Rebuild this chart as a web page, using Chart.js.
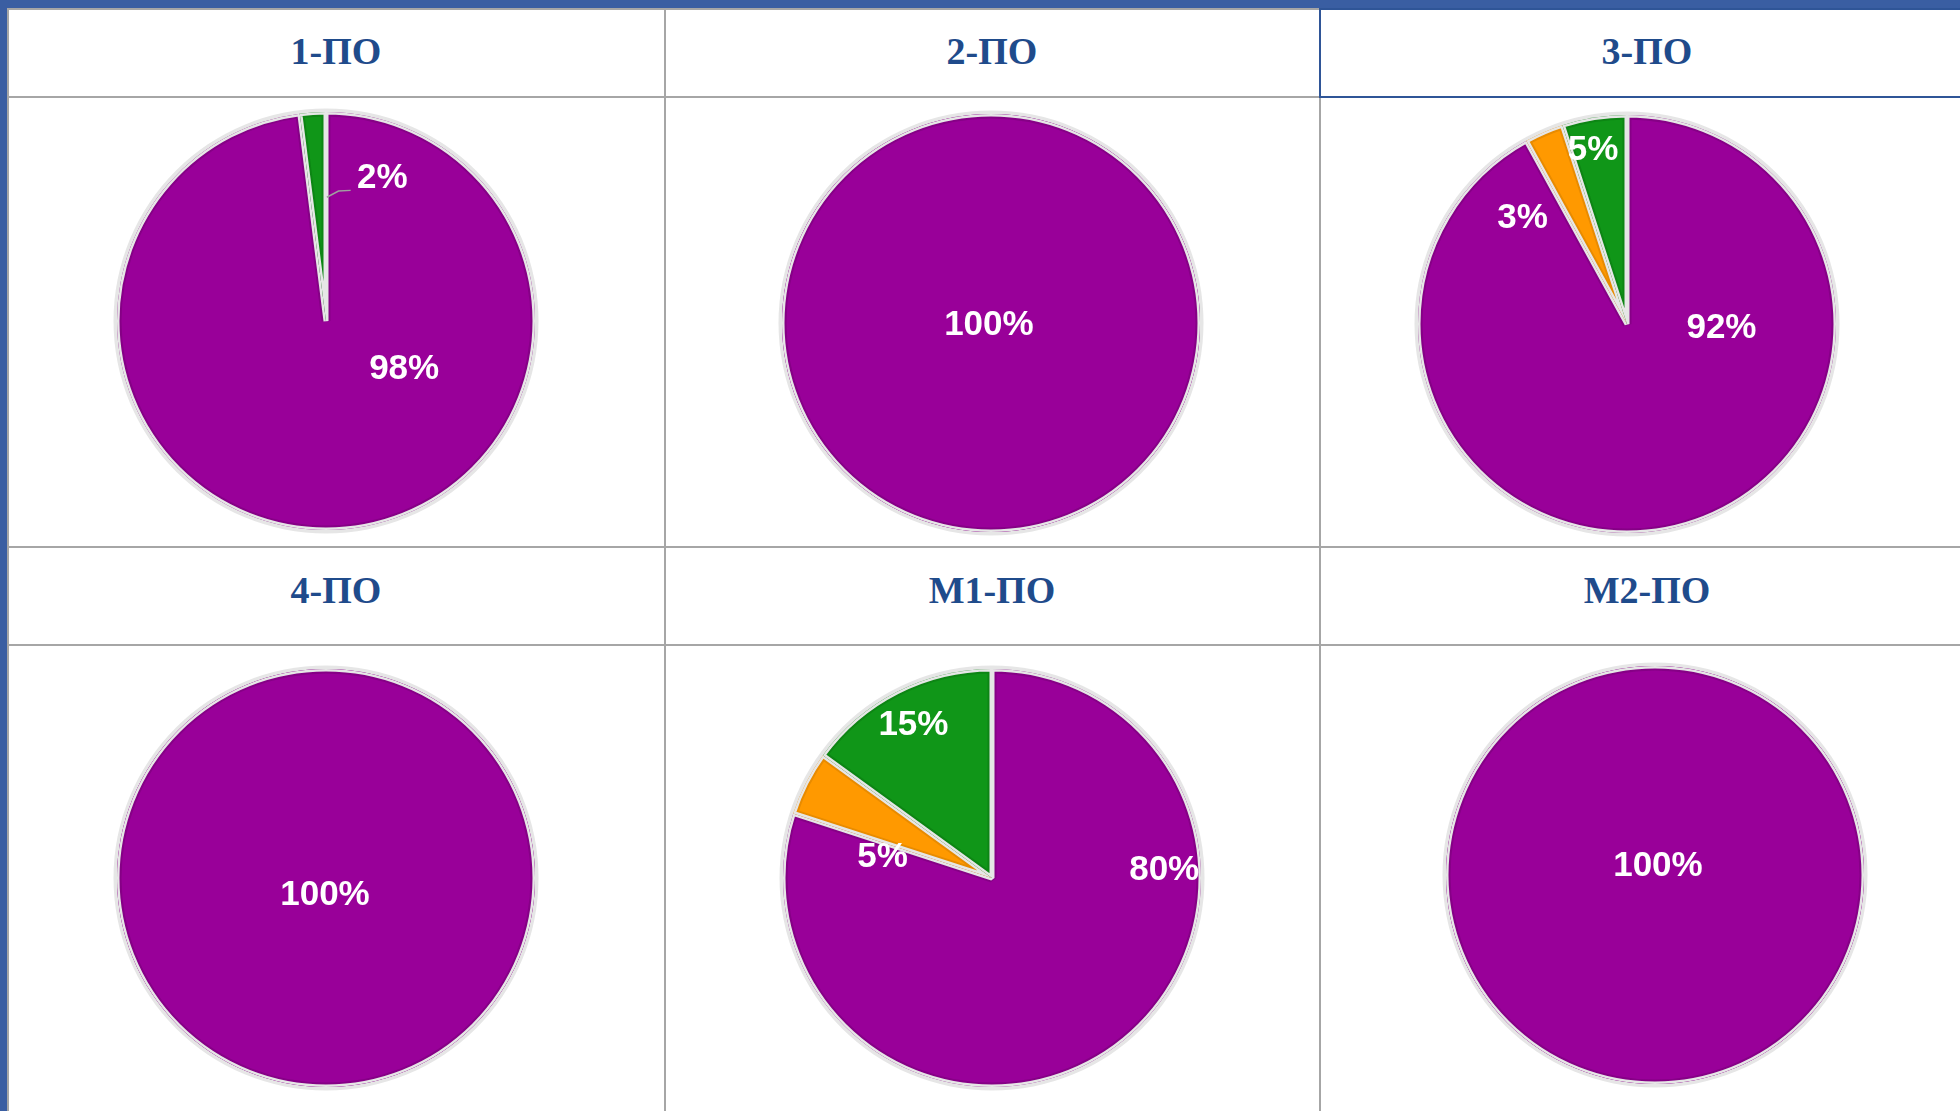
<!DOCTYPE html>
<html>
<head>
<meta charset="utf-8">
<script src="https://cdn.jsdelivr.net/npm/chart.js@4.4.1/dist/chart.umd.min.js"></script>
<style>
html,body{margin:0;padding:0;width:1960px;height:1111px;overflow:hidden;background:#fff;}
body{position:relative;}
.bar{position:absolute;background:#3a5ea2;}
.gl{position:absolute;background:#a6a6a6;}
.hb{position:absolute;background:#2f5597;}
.title{position:absolute;width:400px;height:40px;line-height:40px;text-align:center;
  font-family:"Liberation Serif","Times New Roman",serif;font-weight:bold;font-size:38px;color:#1f4b8b;white-space:nowrap;}
canvas{position:absolute;}
</style>
</head>
<body>
<!-- grid -->
<div class="gl" style="left:0;top:8px;width:1960px;height:2px"></div>
<div class="gl" style="left:0;top:96px;width:1960px;height:2px"></div>
<div class="gl" style="left:0;top:546px;width:1960px;height:2px"></div>
<div class="gl" style="left:0;top:644px;width:1960px;height:2px"></div>
<div class="gl" style="left:7px;top:0;width:2px;height:1111px"></div>
<div class="gl" style="left:664px;top:0;width:2px;height:1111px"></div>
<div class="gl" style="left:1319px;top:0;width:2px;height:1111px"></div>
<!-- highlighted cell -->
<div class="hb" style="left:1319px;top:8px;width:641px;height:2px"></div>
<div class="hb" style="left:1319px;top:96px;width:641px;height:2px"></div>
<div class="hb" style="left:1319px;top:8px;width:2px;height:90px"></div>
<!-- window frame -->
<div class="bar" style="left:0;top:0;width:1960px;height:8px"></div>
<div class="bar" style="left:0;top:0;width:7px;height:1111px"></div>

<script>
// ---------- data ----------
const panelTitles = ['1-ПО', '2-ПО', '3-ПО', '4-ПО', 'М1-ПО', 'М2-ПО'];
const sliceCategories = ['Категория 1', 'Категория 2', 'Категория 3'];
const values1PO  = [98, 0, 2];
const values2PO  = [100, 0, 0];
const values3PO  = [92, 3, 5];
const values4PO  = [100, 0, 0];
const valuesM1PO = [80, 5, 15];
const valuesM2PO = [100, 0, 0];
const panelValues = [values1PO, values2PO, values3PO, values4PO, valuesM1PO, valuesM2PO];

// ---------- style / layout ----------
const sliceColors = ['#990099', '#FF9900', '#109618'];
const sliceEdgeColors = ['#860086', '#E88B00', '#0D8514'];
const sepColor = '#e6e6e6';
const panelCenters = [[326, 321], [991, 323], [1627, 324], [326, 878], [992, 878], [1655, 875]];
const titleCenters = [[336, 51], [992, 51], [1647, 51], [336, 590], [992, 590], [1647, 590]];
// label anchor offsets, in units of pie radius, relative to pie centre
const labelLayouts = [
  [[0.374, 0.233], null, [0.269, -0.681]],
  [[-0.01, 0.01], null, null],
  [[0.452, 0.019], [-0.50, -0.505], [-0.162, -0.829]],
  [[-0.005, 0.081], null, null],
  [[0.824, -0.038], [-0.524, -0.10], [-0.376, -0.729]],
  [[0.014, -0.040], null, null]
];
const leaderLayouts = [
  [[0.004, -0.592], [0.06, -0.622], [0.118, -0.625]],
  null, null, null, null, null
];
const CANVAS = 440, PIE_R = 209, RING_R = 212.5;

const sum = (arr) => arr.reduce((a, b) => a + b, 0);

const ringPlugin = {
  id: 'ring',
  beforeDatasetsDraw(chart) {
    const arc = chart.getDatasetMeta(0).data[0];
    if (!arc) return;
    const ctx = chart.ctx;
    ctx.save();
    ctx.beginPath();
    ctx.arc(arc.x, arc.y, RING_R, 0, Math.PI * 2);
    ctx.fillStyle = sepColor;
    ctx.fill();
    ctx.restore();
  }
};

const edgePlugin = {
  id: 'edge',
  afterDatasetsDraw(chart) {
    const ctx = chart.ctx;
    const ds = chart.data.datasets[0];
    const total = sum(ds.data);
    chart.getDatasetMeta(0).data.forEach((arc, i) => {
      if (!ds.data[i]) return;
      const p = arc.getProps(['x', 'y', 'startAngle', 'endAngle', 'outerRadius'], true);
      const full = ds.data[i] >= total;
      ctx.save();
      ctx.beginPath();
      if (full) {
        ctx.arc(p.x, p.y, p.outerRadius, 0, Math.PI * 2);
      } else {
        ctx.moveTo(p.x, p.y);
        ctx.arc(p.x, p.y, p.outerRadius, p.startAngle, p.endAngle);
        ctx.closePath();
      }
      ctx.clip();
      ctx.lineJoin = 'bevel';
      ctx.lineWidth = 9;
      ctx.strokeStyle = sliceEdgeColors[i];
      ctx.stroke();
      ctx.lineWidth = 5;
      ctx.strokeStyle = sepColor;
      ctx.stroke();
      ctx.restore();
    });
  }
};

const labelPlugin = {
  id: 'pctLabels',
  afterDraw(chart, args, opts) {
    const ctx = chart.ctx;
    const ds = chart.data.datasets[0];
    const meta = chart.getDatasetMeta(0);
    const total = sum(ds.data);
    const first = meta.data[0];
    const cx = first.x, cy = first.y, R = first.outerRadius;
    if (opts.leader) {
      ctx.save();
      ctx.beginPath();
      opts.leader.forEach((pt, k) => {
        const X = cx + pt[0] * R, Y = cy + pt[1] * R;
        if (k === 0) ctx.moveTo(X, Y); else ctx.lineTo(X, Y);
      });
      ctx.strokeStyle = '#a0a0a0';
      ctx.lineWidth = 1.5;
      ctx.stroke();
      ctx.restore();
    }
    ctx.save();
    ctx.font = 'bold 35px "Liberation Sans", Arial, sans-serif';
    ctx.fillStyle = '#ffffff';
    ctx.textAlign = 'center';
    ctx.textBaseline = 'middle';
    ds.data.forEach((v, i) => {
      if (!v || !opts.layout[i]) return;
      const pct = Math.round(v / total * 100) + '%';
      ctx.fillText(pct, cx + opts.layout[i][0] * R, cy + opts.layout[i][1] * R);
    });
    ctx.restore();
  }
};

panelTitles.forEach((t, k) => {
  const d = document.createElement('div');
  d.className = 'title';
  d.textContent = t;
  d.style.left = (titleCenters[k][0] - 200) + 'px';
  d.style.top = (titleCenters[k][1] - 20) + 'px';
  document.body.appendChild(d);

  const c = document.createElement('canvas');
  c.width = CANVAS; c.height = CANVAS;
  c.style.width = CANVAS + 'px'; c.style.height = CANVAS + 'px';
  c.style.left = (panelCenters[k][0] - CANVAS / 2) + 'px';
  c.style.top = (panelCenters[k][1] - CANVAS / 2) + 'px';
  document.body.appendChild(c);

  const vals = panelValues[k];
  const total = sum(vals);
  new Chart(c, {
    type: 'pie',
    data: {
      labels: sliceCategories,
      datasets: [{
        data: vals,
        backgroundColor: sliceColors,
        borderColor: sepColor,
        borderWidth: (ctx) => (ctx.raw && ctx.raw < total ? 5 : 0),
        borderAlign: 'center'
      }]
    },
    options: {
      responsive: false,
      animation: false,
      devicePixelRatio: 1,
      radius: PIE_R,
      layout: { padding: 0 },
      events: [],
      plugins: {
        legend: { display: false },
        tooltip: { enabled: false },
        pctLabels: { layout: labelLayouts[k], leader: leaderLayouts[k] }
      }
    },
    plugins: [ringPlugin, edgePlugin, labelPlugin]
  });
});
</script>
</body>
</html>
